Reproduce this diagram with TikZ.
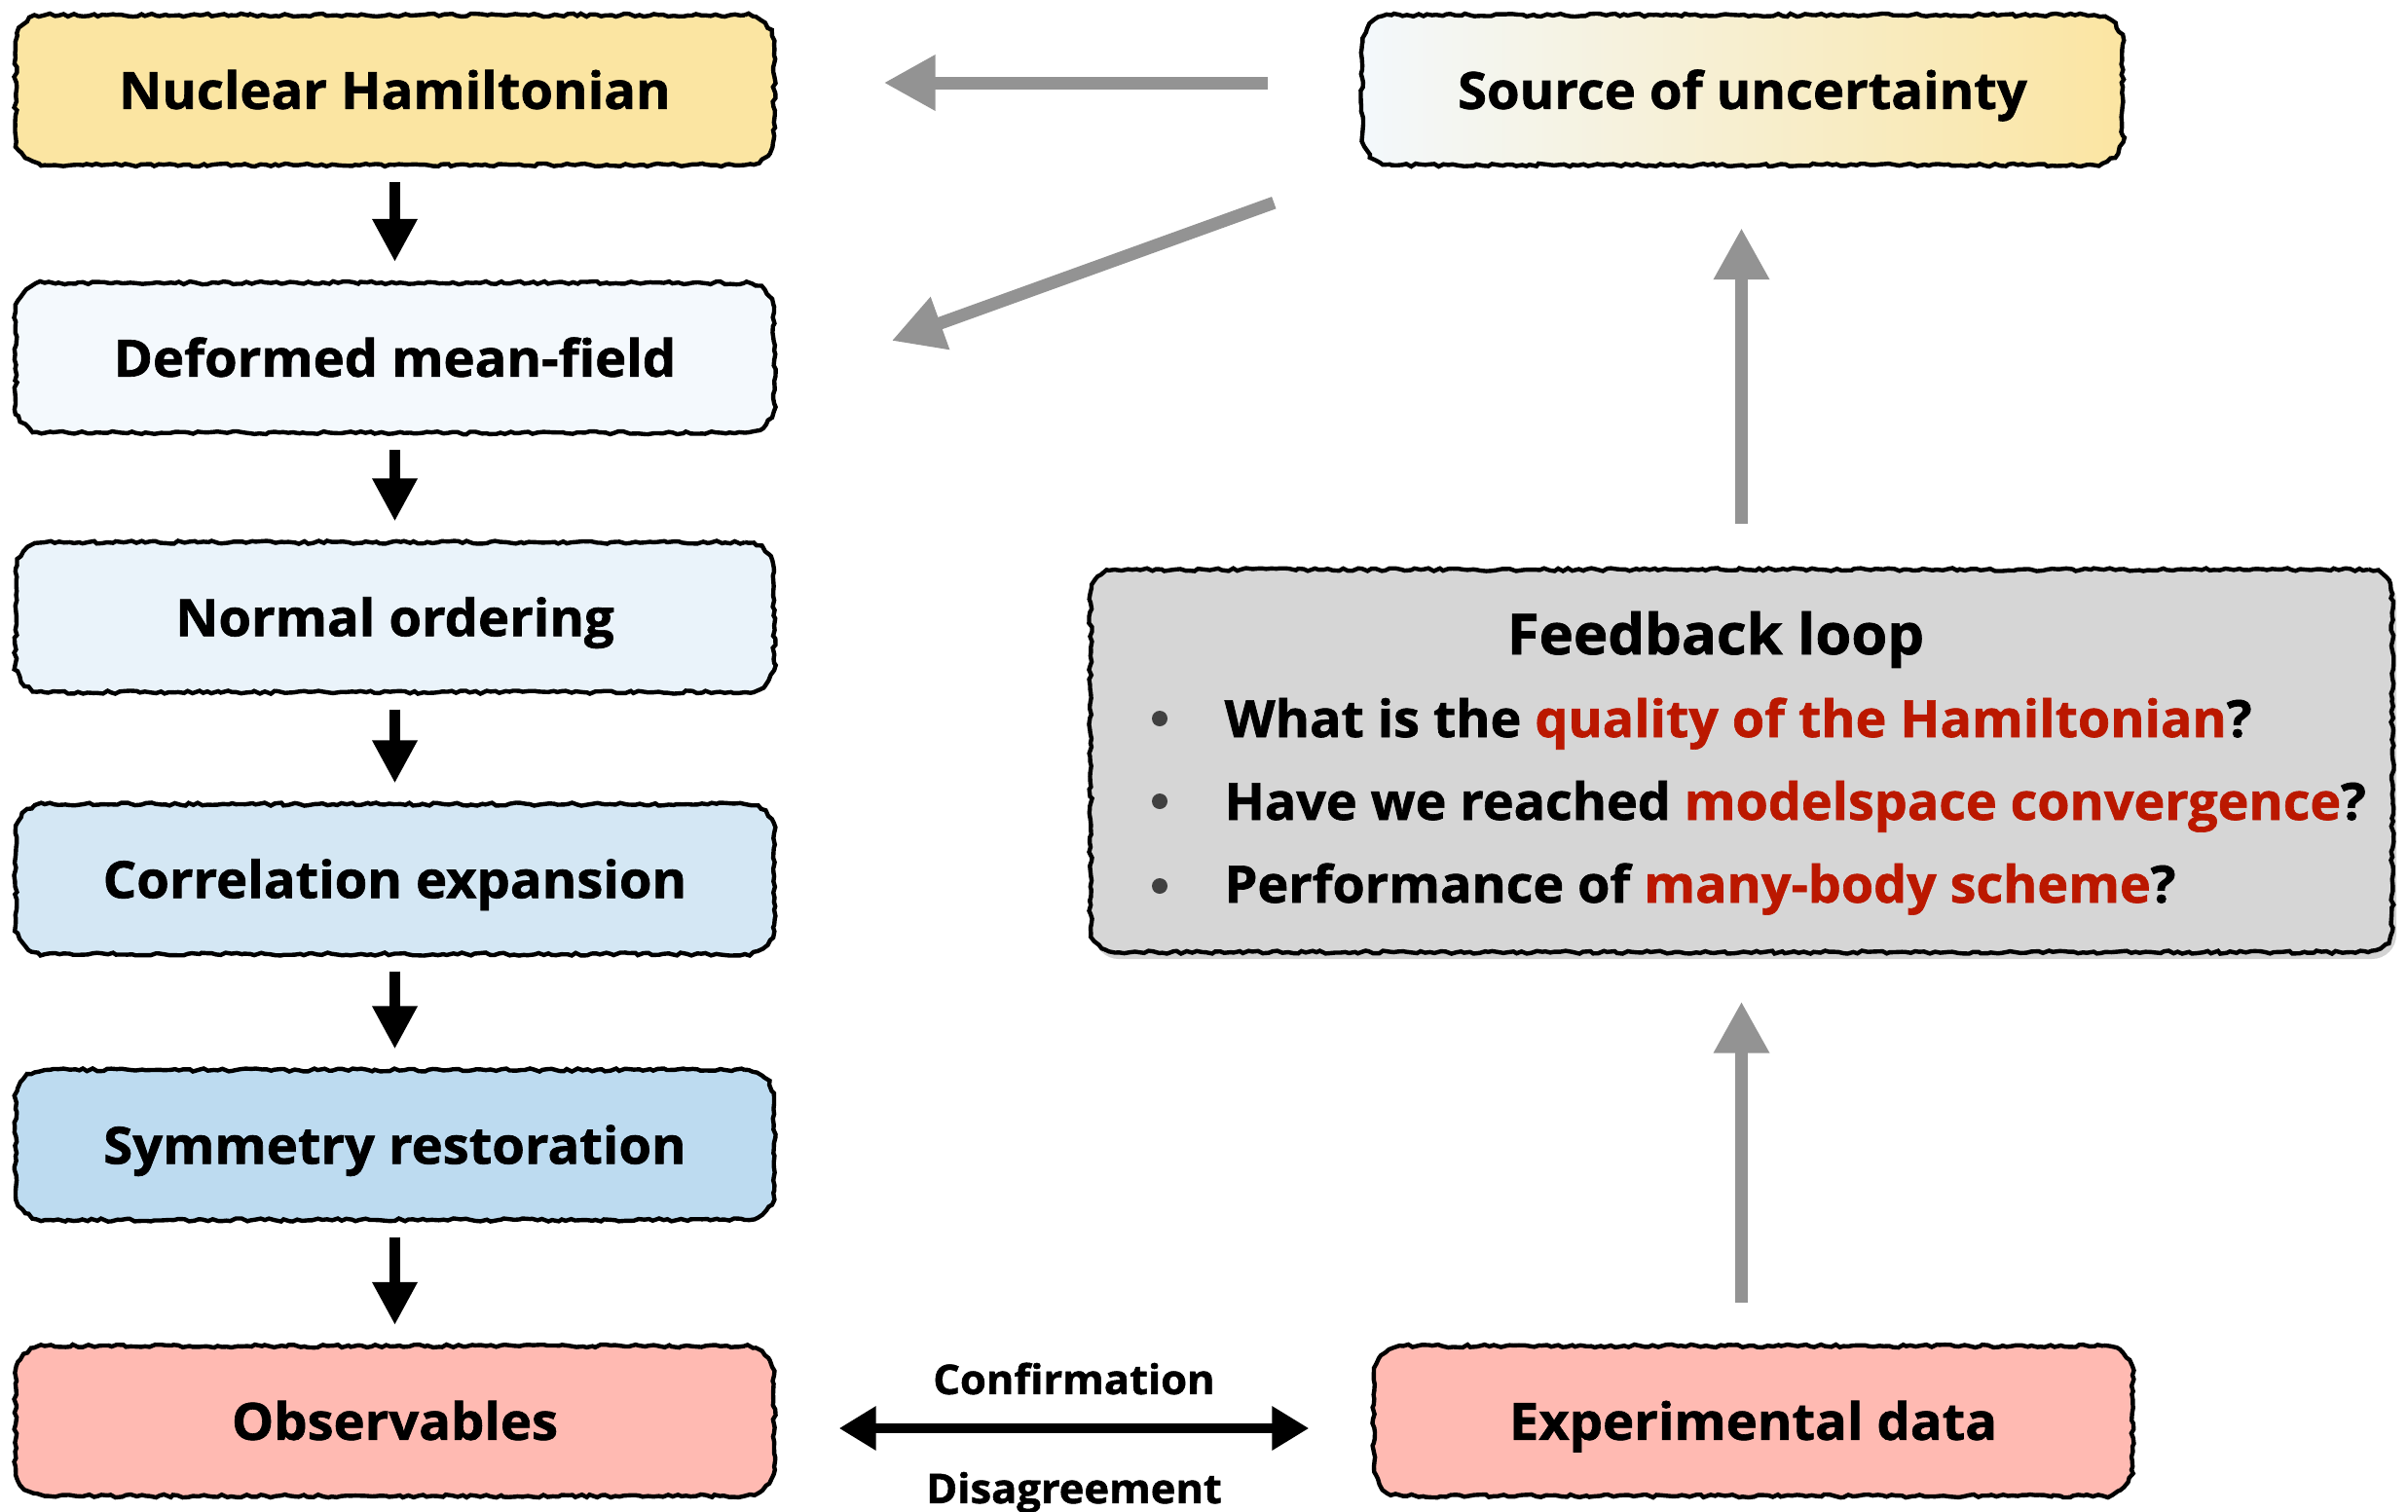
\documentclass[tikz,border=0pt]{standalone}
\usepackage{fontspec}
\setmainfont{Open Sans}[BoldFeatures={FakeBold=1.2}]
\usetikzlibrary{arrows.meta,decorations.pathmorphing,shadows,calc}
\definecolor{cyel}{HTML}{FBE5A2}
\definecolor{cb1}{HTML}{F4F9FD}
\definecolor{cb2}{HTML}{EAF3FA}
\definecolor{cb3}{HTML}{D4E7F4}
\definecolor{cb4}{HTML}{BDDBF0}
\definecolor{cpink}{HTML}{FFBAB2}
\definecolor{cgrayfill}{HTML}{D6D6D6}
\definecolor{cgarr}{HTML}{939393}
\definecolor{cred}{RGB}{187,24,0}
\definecolor{cbul}{HTML}{404040}
\definecolor{csrcl}{HTML}{F3F8FC}
\newcommand\wx[1]{\scalebox{1.03}[1]{#1}}
\newcommand\wf[1]{\scalebox{1.02}[1]{#1}}
\begin{document}
\begin{tikzpicture}[x=1cm,y=1cm,
  roughborder/.style={postaction={draw=black, line width=1.25pt, sharp corners, decorate,
      decoration={random steps, segment length=1.4pt, amplitude=0.45pt}}},
  box/.style={minimum width=7.79cm, minimum height=1.54cm, rounded corners=0.3cm,
      inner sep=0pt, text height=11pt, text depth=0pt,
      font=\bfseries\fontsize{15}{18}\selectfont, roughborder},
  fbtext/.style={font=\bfseries\fontsize{15}{18}\selectfont, inner sep=0pt},
  bul/.style={circle, fill=cbul, minimum size=0.16cm, inner sep=0pt},
  blkarr/.style={draw=black, line width=2.85pt, -{Triangle[length=0.44cm,width=0.44cm]}},
  grayarr/.style={draw=cgarr, line width=3.7pt, -{Triangle[length=0.53cm,width=0.54cm]}},
  dblarr/.style={draw=black, line width=2.8pt, {Triangle[length=0.38cm,width=0.43cm]}-{Triangle[length=0.38cm,width=0.43cm]}},
  lbl/.style={font=\bfseries\fontsize{12}{14}\selectfont, inner sep=0pt}
]
\pgfmathsetseed{7}
\useasboundingbox (0,0) rectangle (24.73,-15.52);

\node[box, fill=cyel] (n1) at (4.055,-0.925) {\wx{Nuclear Hamiltonian}};
\node[box, fill=cb1] (n2) at (4.055,-3.675) {\wx{Deformed mean-field}};
\node[box, fill=cb2] (n3) at (4.055,-6.34) {\wx{Normal ordering}};
\node[box, fill=cb3] (n4) at (4.055,-9.03) {\wx{Correlation expansion}};
\node[box, fill=cb4] (n5) at (4.055,-11.76) {\wx{Symmetry restoration}};
\node[box, fill=cpink] (n6) at (4.055,-14.595) {\wx{Observables}};

\node[box, minimum width=7.81cm, left color=csrcl, right color=cyel] (src) at (17.895,-0.925) {\wx{Source of uncertainty}};
\node[box, fill=cpink] (exp) at (18.005,-14.595) {\wx{Experimental data}};

\node[minimum width=13.37cm, minimum height=3.93cm, rounded corners=0.25cm, fill=cgrayfill,
  drop shadow={shadow xshift=0.04cm, shadow yshift=-0.07cm, opacity=0.35}, roughborder] (fb) at (17.885,-7.815) {};

\node[fbtext, anchor=base, font=\bfseries\fontsize{16.5}{19}\selectfont] (fbt) at (17.62,-6.72) {\wx{Feedback loop}};
\node[bul] (b1) at (11.91,-7.38) {};
\node[bul] (b2) at (11.91,-8.23) {};
\node[bul] (b3) at (11.91,-9.10) {};
\node[fbtext, anchor=base west] (l1) at (12.57,-7.57) {\wf{What is the \textcolor{cred}{quality of the Hamiltonian}?}};
\node[fbtext, anchor=base west] (l2) at (12.57,-8.42) {\wf{Have we reached \textcolor{cred}{modelspace convergence}?}};
\node[fbtext, anchor=base west] (l3) at (12.57,-9.27) {\wf{Performance of \textcolor{cred}{many-body scheme}?}};

\draw[blkarr, shorten <=0.17cm, shorten >=0.21cm] (n1) -- (n2);
\draw[blkarr, shorten <=0.17cm, shorten >=0.21cm] (n2) -- (n3);
\draw[blkarr, shorten <=0.17cm, shorten >=0.21cm] (n3) -- (n4);
\draw[blkarr, shorten <=0.17cm, shorten >=0.21cm] (n4) -- (n5);
\draw[blkarr, shorten <=0.17cm, shorten >=0.21cm] (n5) -- (n6);

\draw[grayarr, shorten <=0.96cm, shorten >=1.12cm] ([yshift=0.075cm]src.west) -- ([yshift=0.075cm]n1.east);
\draw[grayarr] ($(src.south west)+(-0.9,-0.38)$) -- ($(n2.east)+(1.2,0.175)$);
\draw[grayarr, shorten <=0.46cm, shorten >=0.64cm] (fb.north) -- (fb.north |- src.south);
\draw[grayarr, shorten <=0.44cm, shorten >=0.5cm] (exp.north -| fb.south) -- (fb.south);

\draw[dblarr, shorten <=0.66cm, shorten >=0.66cm] ([yshift=-0.075cm]n6.east) -- ([yshift=-0.075cm]exp.west)
  node[lbl, midway, yshift=0.51cm] (conf) {\wx{Confirmation}}
  node[lbl, midway, yshift=-0.66cm] (dis) {\wx{Disagreement}};
\end{tikzpicture}
\end{document}
